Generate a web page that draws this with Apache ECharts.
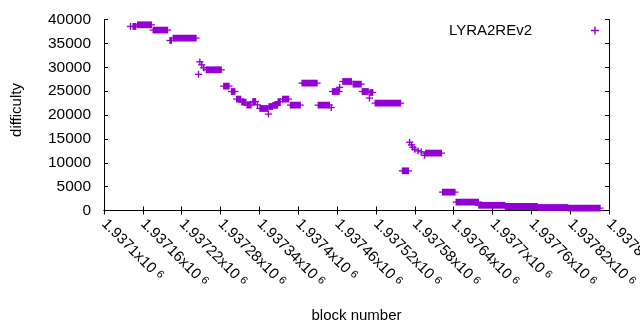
<!DOCTYPE html>
<html>
<head>
<meta charset="utf-8">
<title>LYRA2REv2 difficulty</title>
<script src="https://cdn.jsdelivr.net/npm/echarts@6/dist/echarts.min.js"></script>
<style>
    html, body { margin: 0; padding: 0; background: #fff; }
    #main { width: 640px; height: 330px; }
</style>
</head>
<body>
<div id="main"></div>
<script>
// 难度分段: 起始区块, 结束区块, 难度
var segStart = [1937145, 1937152, 1937176, 1937202, 1937207, 1937258, 1937285, 1937297, 1937305, 1937313,
    1937321, 1937330, 1937341, 1937355, 1937361, 1937369, 1937376, 1937388, 1937406, 1937431,
    1937453, 1937469, 1937485, 1937499, 1937511, 1937519, 1937561, 1937597, 1937623, 1937644,
    1937679, 1937720, 1937770, 1937817];
var segEnd = [1937149, 1937173, 1937198, 1937204, 1937242, 1937281, 1937293, 1937302, 1937311, 1937319,
    1937327, 1937334, 1937353, 1937360, 1937368, 1937372, 1937385, 1937403, 1937429, 1937448,
    1937463, 1937482, 1937497, 1937508, 1937515, 1937558, 1937570, 1937621, 1937642, 1937678,
    1937719, 1937769, 1937816, 1937866];
var segDiff = [38550, 38890, 37780, 35600, 36100, 29470, 26050, 24920, 23330, 22700,
    22070, 22830, 21360, 21780, 22030, 22800, 23330, 22070, 26680, 22070,
    24920, 27020, 26460, 24920, 24710, 22490, 8310, 12020, 3850, 1760,
    1090, 840, 630, 500];
// 单独的点
var ptBlock = [1937141, 1937246, 1937248, 1937251, 1937254, 1937337, 1937354, 1937451, 1937464, 1937510,
    1937572, 1937575, 1937577, 1937580, 1937585, 1937590, 1937595];
var ptDiff = [38550, 28520, 31140, 30500, 29890, 22130, 20190, 21570, 25800, 23540,
    14290, 13760, 13240, 12820, 12500, 12290, 11560];

var color = '#9400d3'
    , font = 'Liberation Sans'
    , myChart = echarts.init(document.getElementById('main'));

var seriesData = [];
for (var i = 0; i < segStart.length; i++) {
    seriesData.push([segStart[i], segEnd[i], segDiff[i]]);
}
for (var j = 0; j < ptBlock.length; j++) {
    seriesData.push([ptBlock[j], ptBlock[j], ptDiff[j]]);
}

// 画 "+" 点, 连续区块叠成一条
function renderPlus(params, api) {
    var p1 = api.coord([api.value(0), api.value(2)])
        , p2 = api.coord([api.value(1), api.value(2)])
        , h = 3.4, arm = 3.6;
    return {
        type: 'group',
        children: [
            {
                type: 'line',
                shape: { x1: p1[0] - arm, y1: p1[1], x2: p2[0] + arm, y2: p2[1] },
                style: { stroke: color, lineWidth: 1.3 }
            },
            {
                type: 'rect',
                shape: { x: p1[0] - 0.7, y: p1[1] - h, width: p2[0] - p1[0] + 1.4, height: 2 * h },
                style: { fill: color }
            }
        ]
    };
}

var axisLine = { show: true, lineStyle: { color: '#000', width: 1 } }
    , axisTick = { show: true, inside: true, length: 4, lineStyle: { color: '#000' } };

var option = {
    animation: false,
    backgroundColor: '#fff',
    grid: { left: 104, right: 31, top: 19.5, bottom: 119.5, containLabel: false, outerBoundsMode: 'none' },
    legend: {
        right: 41,
        top: 23,
        padding: 0,
        align: 'right',
        itemWidth: 8,
        itemHeight: 8,
        icon: 'path://M3.3,0h1.4v3.3h3.3v1.4h-3.3v3.3h-1.4v-3.3h-3.3v-1.4h3.3z',
        textStyle: { fontFamily: font, fontSize: 15, color: '#000', padding: [0, 54, 0, 0] },
        data: ['LYRA2REv2']
    },
    xAxis: [
        {
            type: 'value',
            position: 'bottom',
            min: 1937100,
            max: 1937880,
            interval: 60,
            name: 'block number',
            nameLocation: 'middle',
            nameGap: 98,
            nameTextStyle: { fontFamily: font, fontSize: 15, color: '#000' },
            axisLine: axisLine,
            axisTick: axisTick,
            splitLine: { show: false },
            axisLabel: {
                rotate: -45,
                margin: 11,
                color: '#000',
                fontFamily: font,
                fontSize: 15,
                hideOverlap: false,
                formatter: function (v) {
                    return '{a|' + Number((v / 1e6).toFixed(6)) + 'x10}{s|6}';
                },
                rich: {
                    a: { fontFamily: font, fontSize: 15, color: '#000' },
                    s: { fontFamily: font, fontSize: 11, color: '#000', padding: [0, 0, 0, 4], verticalAlign: 'top' }
                }
            }
        },
        {
            type: 'value',
            position: 'top',
            min: 1937100,
            max: 1937880,
            interval: 60,
            axisLine: axisLine,
            axisTick: axisTick,
            splitLine: { show: false },
            axisLabel: { show: false }
        }
    ],
    yAxis: [
        {
            type: 'value',
            position: 'left',
            min: 0,
            max: 40000,
            interval: 5000,
            name: 'difficulty',
            nameLocation: 'middle',
            nameGap: 80,
            nameTextStyle: { fontFamily: font, fontSize: 15, color: '#000', padding: [0, 0, 0, 10] },
            axisLine: axisLine,
            axisTick: axisTick,
            splitLine: { show: false },
            axisLabel: {
                margin: 13, color: '#000', fontFamily: font, fontSize: 15.5,
                formatter: function (v) { return String(v); }
            }
        },
        {
            type: 'value',
            position: 'right',
            min: 0,
            max: 40000,
            interval: 5000,
            axisLine: axisLine,
            axisTick: axisTick,
            splitLine: { show: false },
            axisLabel: { show: false }
        }
    ],
    series: [
        {
            name: 'LYRA2REv2',
            type: 'custom',
            xAxisIndex: 0,
            yAxisIndex: 0,
            itemStyle: { color: color },
            encode: { x: [0, 1], y: 2 },
            renderItem: renderPlus,
            data: seriesData
        }
    ]
};
myChart.setOption(option);
</script>
</body>
</html>
